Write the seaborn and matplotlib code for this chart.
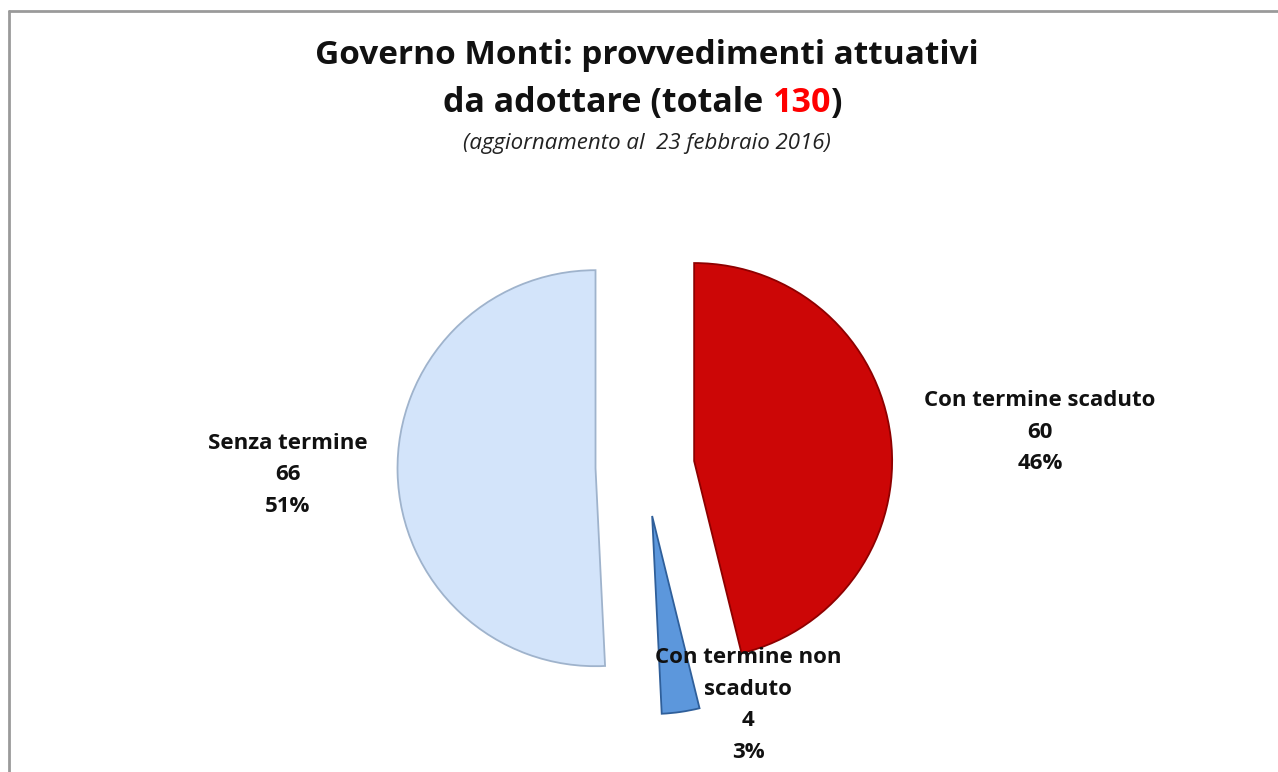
import numpy as np
import matplotlib
matplotlib.use("Agg")
import matplotlib.pyplot as plt
import seaborn as sns
from matplotlib.lines import Line2D

# dati
categorie = ["Con termine scaduto", "Con termine non\nscaduto", "Senza termine"]
valori = [60, 4, 66]
percentuali = ["46%", "3%", "51%"]
colori = ["#CC0606", "#5C97DC", "#D3E4FA"]
bordi = ["#8E0000", "#2F5F9A", "#9FB3CC"]
totale = 130

sns.set_theme(style="white")
plt.rcParams["font.family"] = ["Open Sans", "DejaVu Sans"]

W, H = 1278, 772
fig = plt.figure(figsize=(W / 100, H / 100), dpi=100)
fig.patch.set_facecolor("white")

# assi a tutta figura, 1 unità = raggio della torta
R = 198.0
cx, cy = 645.0, H - 467.0
ax = fig.add_axes([0, 0, 1, 1])

wedges, _ = ax.pie(valori, colors=colori, startangle=90, counterclock=False,
                   explode=[0.25, 0.25, 0.25], radius=1.0,
                   wedgeprops=dict(linewidth=1.3))
for w, ec in zip(wedges, bordi):
    w.set_edgecolor(ec)
ax.set_aspect("auto")
ax.set_xlim(-cx / R, (W - cx) / R)
ax.set_ylim(-cy / R, (H - cy) / R)
ax.axis("off")

# etichette
pos_etichette = [(1040, 432), (748, 705), (288, 475)]
for (px, py), cat, v, p in zip(pos_etichette, categorie, valori, percentuali):
    fig.text(px / W, 1 - py / H, f"{cat}\n{v}\n{p}", ha="center", va="center",
             fontsize=16, fontweight="bold", color="#111111", linespacing=1.68)

# titolo con "130" in rosso
fig.text(647 / W, 1 - 56 / H, "Governo Monti: provvedimenti attuativi",
         ha="center", va="center", fontsize=24, fontweight="bold", color="#111111")
parti = [("da adottare (totale ", "#111111"), (str(totale), "#FF0000"), (")", "#111111")]
fig.canvas.draw()
renderer = fig.canvas.get_renderer()
larghezze = []
oggetti = []
for s, c in parti:
    t = fig.text(0, 1 - 103 / H, s, ha="left", va="center", fontsize=24.5,
                 fontweight="bold", color=c)
    oggetti.append(t)
    larghezze.append(t.get_window_extent(renderer).width)
x0 = 643 - sum(larghezze) / 2
for t, lw in zip(oggetti, larghezze):
    t.set_x(x0 / W)
    x0 += lw

fig.text(647 / W, 1 - 143 / H, "(aggiornamento al  23 febbraio 2016)",
         ha="center", va="center", fontsize=16, style="italic", color="#222222")

# cornice (bordo sinistro e superiore)
fig.add_artist(Line2D([9 / W, 9 / W], [0, 1 - 11 / H], transform=fig.transFigure,
                      color="#9A9A9A", linewidth=2))
fig.add_artist(Line2D([9 / W, 1], [1 - 11 / H, 1 - 11 / H], transform=fig.transFigure,
                      color="#9A9A9A", linewidth=2))

fig.savefig("out.png", dpi=100, facecolor="white")
